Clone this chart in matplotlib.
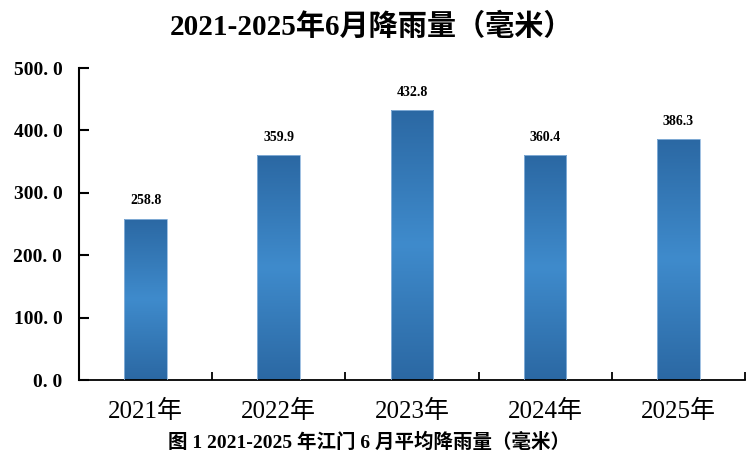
import numpy as np
import matplotlib.pyplot as plt
from matplotlib.colors import LinearSegmentedColormap

years = ['2021年', '2022年', '2023年', '2024年', '2025年']
rain = [258.8, 359.9, 432.8, 360.4, 386.3]
yticks = [0, 100, 200, 300, 400, 500]
ytick_labels = ['0. 0', '100. 0', '200. 0', '300. 0', '400. 0', '500. 0']

serif = ['Liberation Serif', 'Noto Sans CJK SC']
plt.rcParams['font.family'] = serif

fig = plt.figure(figsize=(7.49, 4.66), dpi=100)
ax = fig.add_axes([0.1055, 0.1845, 0.889, 0.6695])

x = np.arange(len(years))
bars = ax.bar(x, rain, width=0.32, color='none', edgecolor='#8fb6dd', linewidth=0.6, zorder=3)

# vertical gradient: dark at top and bottom, lighter in the middle
cmap = LinearSegmentedColormap.from_list('bar', ['#2b68a3', '#3f8bcc', '#2b68a3'])
grad = np.linspace(0, 1, 256).reshape(-1, 1)
for b in bars:
    x0, y0 = b.get_x(), b.get_y()
    w, h = b.get_width(), b.get_height()
    im = ax.imshow(grad, cmap=cmap, extent=[x0, x0 + w, y0, y0 + h],
                   aspect='auto', origin='lower', zorder=2)
    im.set_clip_path(b)

for xi, v in zip(x, rain):
    ax.annotate(f'{v:.1f}', (xi, v), xytext=(0, 8), textcoords='offset points',
                ha='center', va='bottom', fontsize=10, fontweight='bold',
                family='Liberation Serif')

ax.set_xlim(-0.5, 4.5)
ax.set_ylim(0, 500)
ax.set_yticks(yticks)
ax.set_yticklabels(ytick_labels, fontsize=14, fontweight='bold')
ax.set_xticks(np.arange(-0.5, 5, 1))
ax.set_xticklabels([])
ax.set_xticks(x, minor=True)
ax.set_xticklabels(years, minor=True, fontsize=18)
ax.tick_params(axis='x', which='minor', length=0, pad=14)
ax.tick_params(axis='x', which='major', direction='in', length=6, width=1.3)
ax.tick_params(axis='y', direction='in', length=7, width=1.5, pad=12)

for s in ['top', 'right']:
    ax.spines[s].set_visible(False)
ax.spines['left'].set_linewidth(1.5)
ax.spines['bottom'].set_linewidth(1.3)

fig.text(0.496, 0.943, '2021-2025年6月降雨量（毫米）', ha='center', va='center',
         fontsize=21, fontweight='bold')
fig.text(0.492, 0.052, '图 1 2021-2025 年江门 6 月平均降雨量（毫米）', ha='center',
         va='center', fontsize=14, fontweight='bold')

fig.savefig('out.png', dpi=100)
